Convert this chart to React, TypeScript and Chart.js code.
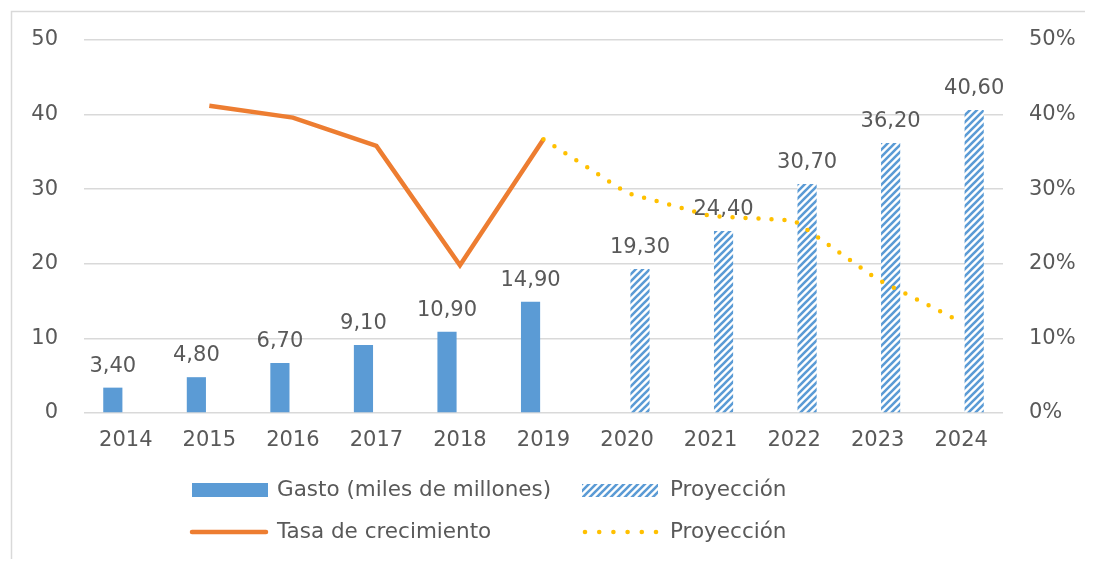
import React, { useEffect, useRef } from "react";
import { Chart, registerables } from "chart.js";

Chart.register(...registerables);

const categories = ["2014", "2015", "2016", "2017", "2018", "2019", "2020", "2021", "2022", "2023", "2024"];
const gasto = [3.4, 4.8, 6.7, 9.1, 10.9, 14.9, null, null, null, null, null];
const gastoProyeccion = [null, null, null, null, null, null, 19.3, 24.4, 30.7, 36.2, 40.6];
const tasa = [null, 41.2, 39.6, 35.8, 19.8, 36.7, null, null, null, null, null];
const tasaProyeccion = [null, null, null, null, null, 36.7, 29.5, 26.4, 25.8, 17.9, 12.2];
const leftTicks = [0, 10, 20, 30, 40, 50];
const rightTicks = [0, 10, 20, 30, 40, 50];

const BLUE = "#5b9bd5";
const ORANGE = "#ed7d31";
const YELLOW = "#ffc000";
const TEXT = "#595959";
const GRID = "#d9d9d9";
const FONT = "'DejaVu Sans', 'Noto Sans', sans-serif";

function makePattern(): CanvasPattern | string {
  const s = 7;
  const c = document.createElement("canvas");
  c.width = s;
  c.height = s;
  const x = c.getContext("2d");
  if (!x) return BLUE;
  x.fillStyle = "#ffffff";
  x.fillRect(0, 0, s, s);
  x.strokeStyle = BLUE;
  x.lineWidth = 2.6;
  x.beginPath();
  x.moveTo(0, s);
  x.lineTo(s, 0);
  x.moveTo(-s / 2, s / 2);
  x.lineTo(s / 2, -s / 2);
  x.moveTo(s / 2, s + s / 2);
  x.lineTo(s + s / 2, s / 2);
  x.stroke();
  const p = x.createPattern(c, "repeat");
  return p || BLUE;
}

const fmt = (v: number) => v.toFixed(2).replace(".", ",");

export default function App() {
  const ref = useRef<HTMLCanvasElement>(null);

  useEffect(() => {
    if (!ref.current) return;
    const pattern = makePattern();

    const borderPlugin = {
      id: "frameBorder",
      beforeDraw(chart: any) {
        const ctx = chart.ctx;
        ctx.save();
        ctx.strokeStyle = GRID;
        ctx.lineWidth = 1.5;
        ctx.beginPath();
        ctx.moveTo(3.5, chart.height);
        ctx.lineTo(3.5, 3.5);
        ctx.lineTo(chart.width, 3.5);
        ctx.stroke();
        ctx.restore();
      },
    };

    const labelPlugin = {
      id: "barValueLabels",
      afterDatasetsDraw(chart: any) {
        const ctx = chart.ctx;
        ctx.save();
        ctx.font = `21px ${FONT}`;
        ctx.fillStyle = TEXT;
        ctx.textAlign = "center";
        ctx.textBaseline = "alphabetic";
        [0, 1].forEach((di) => {
          const meta = chart.getDatasetMeta(di);
          const data = chart.data.datasets[di].data as (number | null)[];
          meta.data.forEach((el: any, i: number) => {
            const v = data[i];
            if (v == null) return;
            ctx.fillText(fmt(v), el.x, el.y - 16);
          });
        });
        ctx.restore();
      },
    };

    const legendPlugin = {
      id: "customLegend",
      afterDraw(chart: any) {
        const ctx = chart.ctx;
        ctx.save();
        ctx.font = `21.5px ${FONT}`;
        ctx.textAlign = "left";
        ctx.textBaseline = "middle";
        const r1 = 482;
        const r2 = 524;
        ctx.fillStyle = BLUE;
        ctx.fillRect(184, r1 - 7, 76, 14);
        ctx.fillStyle = pattern as any;
        ctx.fillRect(574, r1 - 6, 76, 13);
        ctx.fillStyle = TEXT;
        ctx.fillText(chart.data.datasets[0].label, 269, r1);
        ctx.fillText(chart.data.datasets[1].label, 662, r1);
        ctx.strokeStyle = ORANGE;
        ctx.lineWidth = 4.5;
        ctx.lineCap = "round";
        ctx.beginPath();
        ctx.moveTo(184, r2);
        ctx.lineTo(258, r2);
        ctx.stroke();
        ctx.fillStyle = YELLOW;
        for (let k = 0; k < 6; k++) {
          ctx.beginPath();
          ctx.arc(577 + k * 14.2, r2, 2.3, 0, Math.PI * 2);
          ctx.fill();
        }
        ctx.fillStyle = TEXT;
        ctx.fillText(chart.data.datasets[2].label, 269, r2);
        ctx.fillText(chart.data.datasets[3].label, 662, r2);
        ctx.restore();
      },
    };

    const chart = new Chart(ref.current, {
      type: "bar",
      data: {
        labels: categories,
        datasets: [
          {
            type: "bar",
            label: "Gasto (miles de millones)",
            data: gasto as any,
            backgroundColor: BLUE,
            yAxisID: "y",
            categoryPercentage: 0.62,
            barPercentage: 0.74,
            order: 2,
          },
          {
            type: "bar",
            label: "Proyección",
            data: gastoProyeccion as any,
            backgroundColor: pattern as any,
            yAxisID: "y",
            categoryPercentage: 0.62,
            barPercentage: 0.74,
            order: 2,
          },
          {
            type: "line",
            label: "Tasa de crecimiento",
            data: tasa as any,
            borderColor: ORANGE,
            backgroundColor: ORANGE,
            borderWidth: 4.5,
            pointRadius: 0,
            tension: 0,
            spanGaps: false,
            yAxisID: "y1",
            order: 1,
          },
          {
            type: "line",
            label: "Proyección",
            data: tasaProyeccion as any,
            borderColor: YELLOW,
            backgroundColor: YELLOW,
            borderWidth: 4.5,
            borderDash: [0, 13],
            borderCapStyle: "round",
            pointRadius: 0,
            tension: 0,
            spanGaps: false,
            yAxisID: "y1",
            order: 0,
          },
        ],
      },
      options: {
        responsive: true,
        maintainAspectRatio: false,
        animation: false,
        layout: { padding: { top: 32, left: 0, right: 0, bottom: 0 } },
        plugins: {
          legend: { display: false },
          tooltip: { enabled: false },
          title: { display: false },
        },
        scales: {
          x: {
            grid: { display: false, drawTicks: false },
            border: { display: false },
            ticks: {
              color: TEXT,
              font: { family: FONT, size: 21 },
              padding: 15,
              maxRotation: 0,
            },
            afterFit(scale: any) {
              scale.height = 146;
            },
          },
          y: {
            position: "left",
            min: 0,
            max: 50,
            afterBuildTicks(scale: any) {
              scale.ticks = leftTicks.map((v) => ({ value: v }));
            },
            grid: { color: GRID, lineWidth: 1.5, drawTicks: false },
            border: { display: false },
            ticks: {
              color: TEXT,
              font: { family: FONT, size: 21 },
              padding: 26,
            },
            afterFit(scale: any) {
              scale.width = 76;
              scale.paddingTop = 0;
              scale.paddingBottom = 0;
            },
          },
          y1: {
            position: "right",
            min: 0,
            max: 50,
            afterBuildTicks(scale: any) {
              scale.ticks = rightTicks.map((v) => ({ value: v }));
            },
            grid: { display: false, drawTicks: false },
            border: { display: false },
            ticks: {
              color: TEXT,
              font: { family: FONT, size: 21 },
              padding: 26,
              callback: (v: any) => `${v}%`,
            },
            afterFit(scale: any) {
              scale.width = 82;
              scale.paddingTop = 0;
              scale.paddingBottom = 0;
            },
          },
        },
      },
      plugins: [borderPlugin, labelPlugin, legendPlugin],
    });

    return () => chart.destroy();
  }, []);

  return (
    <div style={{ position: "relative", height: "551px", background: "#ffffff" }}>
      <canvas ref={ref} />
    </div>
  );
}
